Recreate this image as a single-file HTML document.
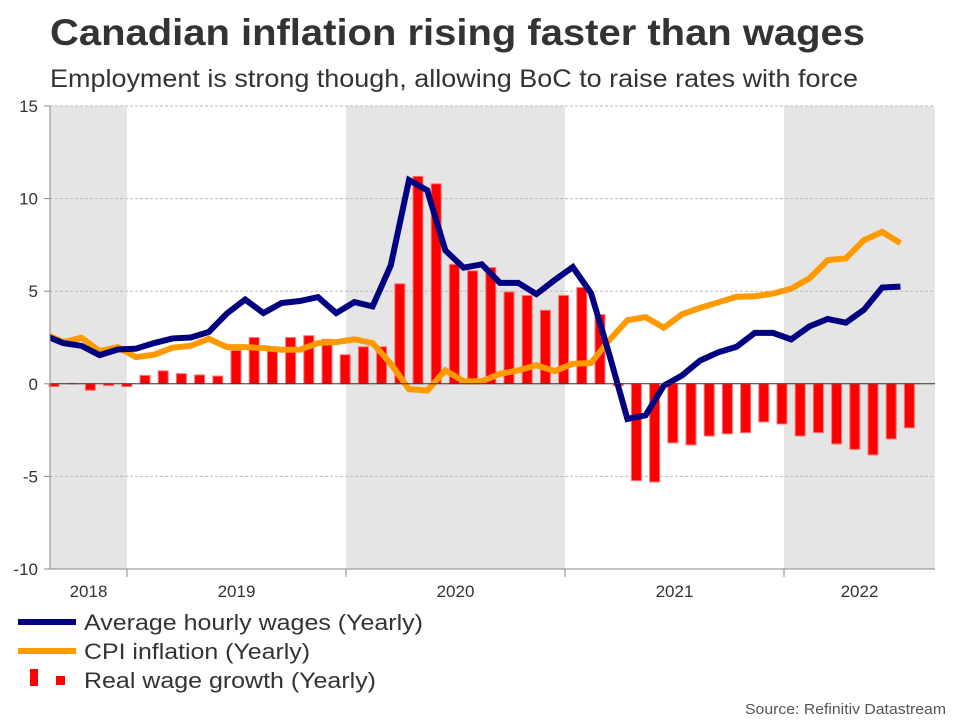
<!DOCTYPE html>
<html><head><meta charset="utf-8"><style>
body{margin:0;background:#fff;width:960px;height:720px;overflow:hidden;font-family:"Liberation Sans",sans-serif}
</style></head><body>
<svg id="chart" width="960" height="720" xmlns="http://www.w3.org/2000/svg" font-family="Liberation Sans, sans-serif">
<text x="50" y="45" font-size="37" font-weight="bold" fill="#333" textLength="815" lengthAdjust="spacingAndGlyphs">Canadian inflation rising faster than wages</text>
<text x="50" y="87" font-size="25" fill="#333" textLength="808" lengthAdjust="spacingAndGlyphs">Employment is strong though, allowing BoC to raise rates with force</text>
<g id="bands"></g><g id="grid"></g><g id="bars"></g><g id="lines"></g><g id="axes"></g>
<g>
<line x1="18" y1="622" x2="76" y2="622" stroke="#000080" stroke-width="6"/>
<text x="84" y="630" font-size="22" fill="#333" textLength="339" lengthAdjust="spacingAndGlyphs">Average hourly wages (Yearly)</text>
<line x1="18" y1="651" x2="76" y2="651" stroke="#ff9900" stroke-width="6"/>
<text x="84" y="659" font-size="22" fill="#333" textLength="226" lengthAdjust="spacingAndGlyphs">CPI inflation (Yearly)</text>
<rect x="30" y="669" width="8" height="17" fill="#f00"/>
<rect x="56" y="676" width="9" height="9" fill="#f00"/>
<text x="84" y="688" font-size="22" fill="#333" textLength="292" lengthAdjust="spacingAndGlyphs">Real wage growth (Yearly)</text>
</g>
<text x="946" y="714" font-size="15" fill="#555" text-anchor="end" textLength="201" lengthAdjust="spacingAndGlyphs">Source: Refinitiv Datastream</text>
</svg>
<script>
const yTicks=[15,10,5,0,-5,-10];
const years=["2018","2019","2020","2021","2022"];
const wages=[2.6,2.2,2.05,1.55,1.85,1.9,2.2,2.45,2.5,2.8,3.8,4.55,3.82,4.36,4.47,4.68,3.82,4.41,4.18,6.4,11.0,10.45,7.2,6.27,6.45,5.45,5.45,4.84,5.6,6.3,4.9,1.6,-1.9,-1.7,-0.1,0.45,1.26,1.7,2.0,2.75,2.75,2.4,3.1,3.5,3.3,4.0,5.2,5.25];
const cpi=[2.7,2.25,2.49,1.77,1.98,1.44,1.57,1.95,2.05,2.43,1.98,1.98,1.93,1.84,1.84,2.2,2.25,2.4,2.2,1.08,-0.29,-0.36,0.72,0.14,0.14,0.54,0.72,1.0,0.69,1.08,1.12,2.35,3.43,3.6,3.03,3.75,4.1,4.4,4.7,4.73,4.87,5.14,5.69,6.68,6.77,7.76,8.2,7.6];
const realWage=[-0.15,0.02,-0.35,-0.1,-0.15,0.45,0.7,0.55,0.48,0.42,1.8,2.5,1.8,2.5,2.6,2.4,1.57,2.0,2.0,5.4,11.2,10.8,6.45,6.1,6.28,4.96,4.77,3.97,4.77,5.2,3.74,-0.1,-5.23,-5.3,-3.19,-3.3,-2.82,-2.7,-2.64,-2.06,-2.17,-2.82,-2.64,-3.25,-3.54,-3.84,-2.98,-2.38];

const NS="http://www.w3.org/2000/svg";
const L=50,R=935,T=106,B=569;
const y=v=>T+(15-v)*(B-T)/25;
const xBar=k=>54+18.2*k;
const xLine=k=>xBar(k)-9;
const yearX=i=>127+219*(i-1);
function mk(tag,attrs,parent){const e=document.createElementNS(NS,tag);for(const k in attrs)e.setAttribute(k,attrs[k]);document.getElementById(parent).appendChild(e);return e;}

const defs=document.createElementNS(NS,"defs");
defs.innerHTML='<clipPath id="plotclip"><rect x="50" y="100" width="885" height="480"/></clipPath>';
document.getElementById("chart").prepend(defs);

years.forEach((yr,i)=>{
  if(i%2===0){
    const x0=Math.max(L,yearX(i)),x1=Math.min(R,yearX(i+1));
    const b=mk("rect",{x:x0,y:T,width:x1-x0,height:B-T,fill:"#e5e5e5"},"bands");
    
    
  }
  const cx=(Math.max(L,yearX(i))+Math.min(R,yearX(i+1)))/2;
  const t=mk("text",{x:cx,y:597,"font-size":17,fill:"#333","text-anchor":"middle"},"axes");
  t.textContent=yr;
  
  
  if(i>0){
    const tk=mk("line",{x1:yearX(i),y1:B,x2:yearX(i),y2:577,stroke:"#888"},"axes");
    
    
  }
});
yTicks.forEach(v=>{
  if(v!==0){
    const g=mk("line",{x1:L,y1:y(v),x2:R,y2:y(v),stroke:"#bbb","stroke-dasharray":"3,2"},"grid");
    
    
  }
  const tk=mk("line",{x1:44,y1:y(v),x2:L,y2:y(v),stroke:"#888"},"axes");
  
  
  const t=mk("text",{x:38,y:y(v)+6,"font-size":17,fill:"#333","text-anchor":"end"},"axes");
  t.textContent=v;
  
  
});
realWage.forEach((v,k)=>{
  const y0=y(0),y1=y(v);
  const r=mk("rect",{x:xBar(k)-5,y:Math.min(y0,y1),width:10,height:Math.max(0.5,Math.abs(y1-y0)),fill:"#f00",stroke:"#f77","stroke-width":1},"bars");
  
  
});
const z=mk("line",{x1:L,y1:y(0),x2:R,y2:y(0),stroke:"#333","stroke-width":1},"axes");


const ax=mk("line",{x1:L,y1:T,x2:L,y2:B,stroke:"#888"},"axes");


const bx=mk("line",{x1:L,y1:B,x2:R,y2:B,stroke:"#888"},"axes");


function series(arr,color,name){
  const p=mk("polyline",{points:arr.map((v,k)=>xLine(k)+","+y(v)).join(" "),fill:"none",stroke:color,"stroke-width":6,"stroke-linejoin":"miter","clip-path":"url(#plotclip)"},"lines");
  
  
}
series(cpi,"#ff9900","cpi-inflation-line");
series(wages,"#000080","average-wages-line");
</script>
</body></html>
